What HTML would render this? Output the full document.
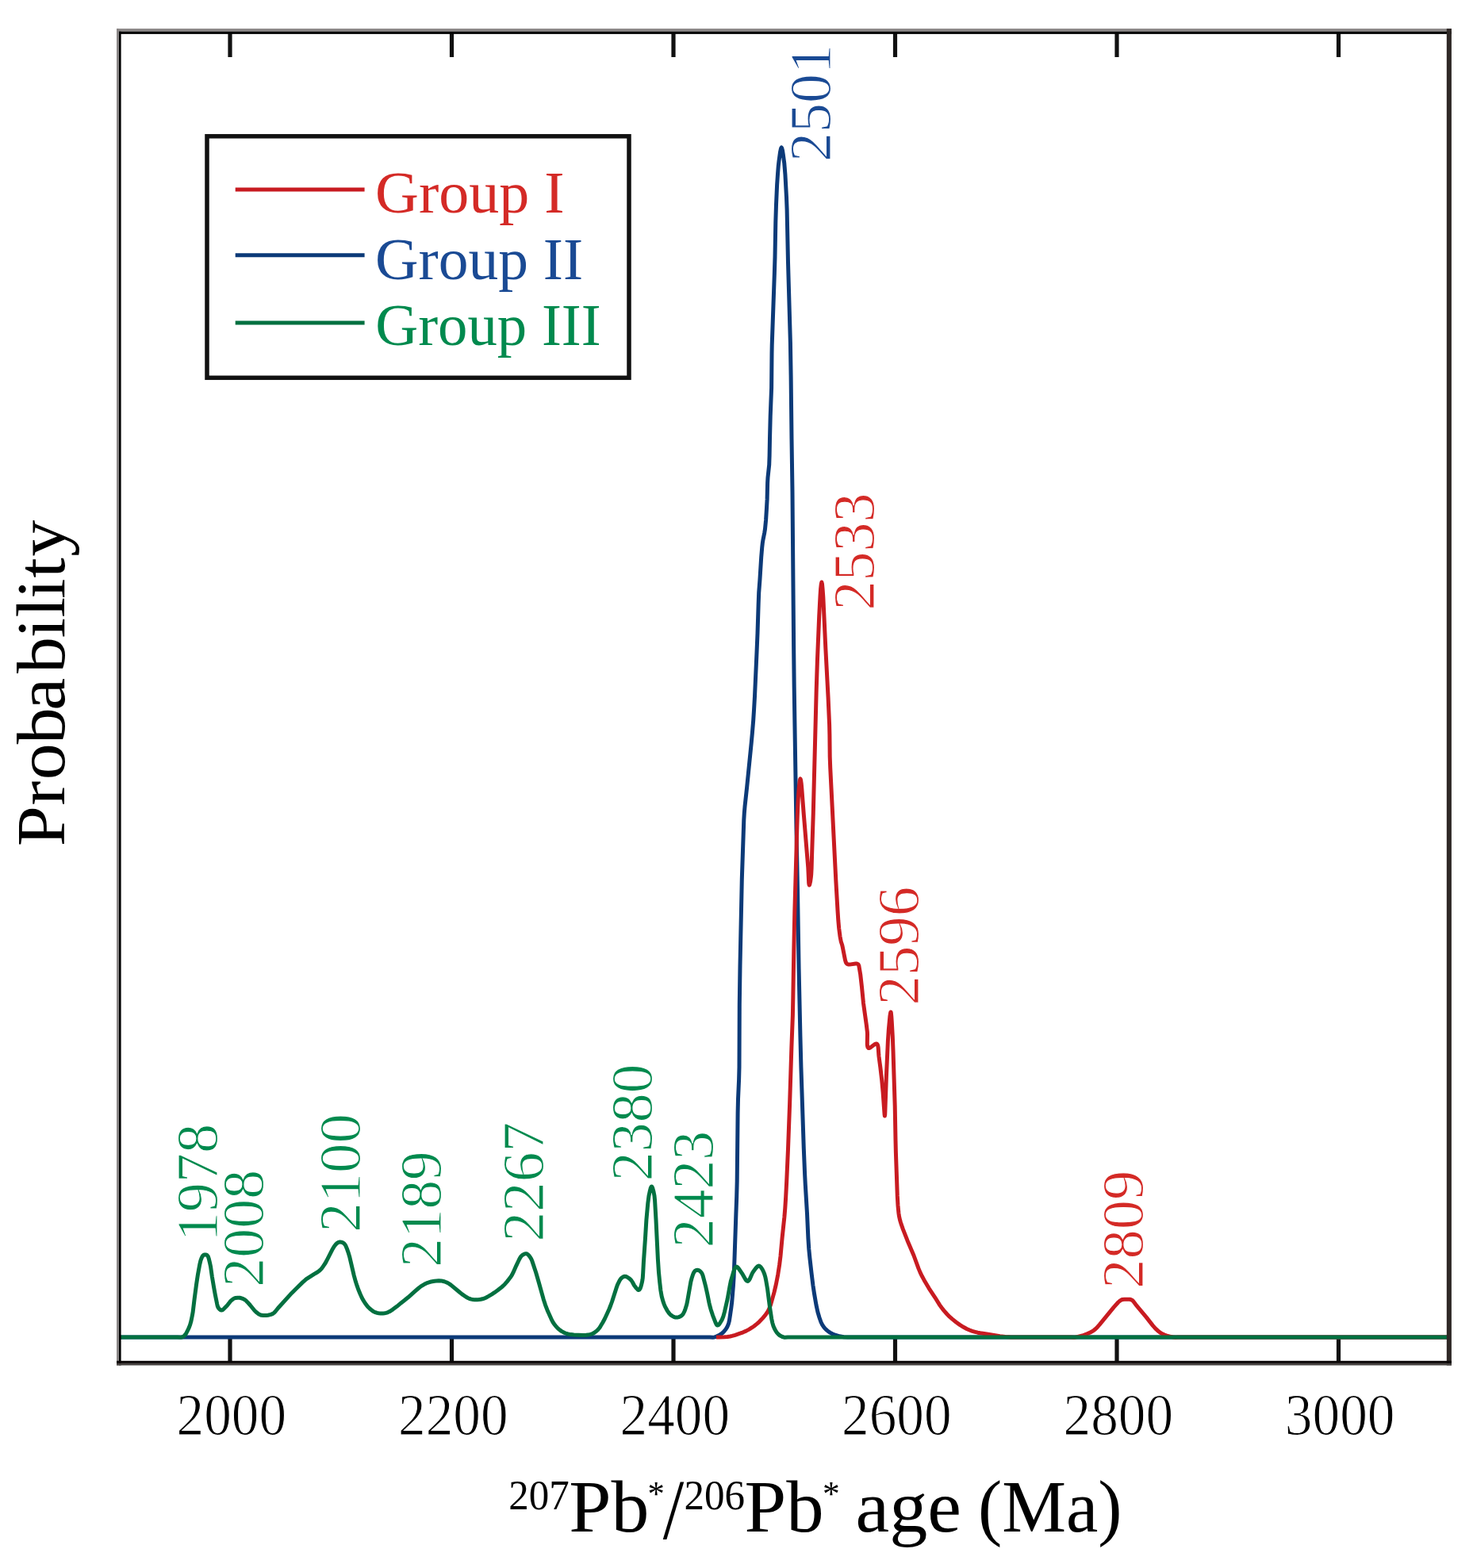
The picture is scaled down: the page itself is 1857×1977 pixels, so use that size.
<!DOCTYPE html>
<html><head><meta charset="utf-8"><title>Probability plot</title>
<style>html,body{margin:0;padding:0;background:#fff;}svg{display:block;}text{font-family:'Liberation Serif',serif;}</style>
</head><body>
<svg width="1857" height="1977" viewBox="0 0 1857 1977">
<rect x="0" y="0" width="1857" height="1977" fill="#fff"/>
<line x1="290" y1="42" x2="290" y2="72" stroke="#111" stroke-width="5.2"/>
<line x1="290" y1="1716" x2="290" y2="1686" stroke="#111" stroke-width="5.2"/>
<line x1="569.5" y1="42" x2="569.5" y2="72" stroke="#111" stroke-width="5.2"/>
<line x1="569.5" y1="1716" x2="569.5" y2="1686" stroke="#111" stroke-width="5.2"/>
<line x1="849" y1="42" x2="849" y2="72" stroke="#111" stroke-width="5.2"/>
<line x1="849" y1="1716" x2="849" y2="1686" stroke="#111" stroke-width="5.2"/>
<line x1="1128.5" y1="42" x2="1128.5" y2="72" stroke="#111" stroke-width="5.2"/>
<line x1="1128.5" y1="1716" x2="1128.5" y2="1686" stroke="#111" stroke-width="5.2"/>
<line x1="1408" y1="42" x2="1408" y2="72" stroke="#111" stroke-width="5.2"/>
<line x1="1408" y1="1716" x2="1408" y2="1686" stroke="#111" stroke-width="5.2"/>
<line x1="1687.5" y1="42" x2="1687.5" y2="72" stroke="#111" stroke-width="5.2"/>
<line x1="1687.5" y1="1716" x2="1687.5" y2="1686" stroke="#111" stroke-width="5.2"/>
<path d="M150.0,1686.1 L895.0,1686.1 L898.7,1686.3 L900.0,1686.1 L901.1,1685.8 L903.7,1684.8 L906.5,1683.5 L909.1,1682.0 L911.3,1680.2 L913.2,1678.2 L915.0,1676.0 L916.6,1673.4 L918.1,1669.9 L918.8,1667.7 L919.4,1665.3 L920.2,1660.1 L921.9,1648.3 L922.8,1640.9 L924.4,1621.4 L925.1,1610.0 L926.0,1587.2 L927.9,1530.4 L928.7,1508.9 L929.2,1489.3 L930.1,1403.5 L930.5,1386.0 L931.6,1361.0 L932.0,1345.2 L932.3,1266.2 L933.0,1218.0 L935.3,1108.6 L937.8,1033.7 L938.3,1025.3 L939.0,1017.1 L941.6,993.0 L947.3,936.1 L948.4,924.0 L949.7,908.3 L950.5,895.7 L951.5,878.2 L954.0,822.9 L955.0,798.6 L956.2,760.5 L956.7,747.3 L957.9,731.5 L959.7,702.6 L960.7,690.6 L961.3,685.0 L961.9,681.0 L963.8,671.4 L964.5,667.0 L965.6,655.5 L966.4,642.5 L967.1,629.9 L967.6,609.2 L968.0,602.0 L969.7,586.0 L970.1,574.5 L970.5,553.0 L971.2,525.0 L972.6,489.0 L973.0,445.8 L973.2,435.3 L976.4,343.6 L977.0,324.2 L977.8,280.0 L978.5,258.1 L979.6,233.2 L980.5,219.7 L981.3,209.3 L982.0,203.0 L983.5,192.1 L984.4,187.8 L984.8,186.5 L985.2,186.0 L985.6,186.5 L986.5,189.7 L987.3,194.8 L988.8,206.1 L989.9,219.7 L991.5,248.8 L992.1,264.0 L993.5,330.6 L996.4,432.0 L997.1,473.5 L998.0,553.0 L999.0,620.9 L1000.6,812.3 L1001.2,866.0 L1004.0,1045.8 L1005.5,1122.0 L1007.1,1221.9 L1008.9,1305.6 L1009.9,1344.8 L1013.3,1448.1 L1014.6,1480.0 L1015.3,1493.6 L1017.5,1530.0 L1018.9,1561.3 L1019.8,1575.0 L1020.9,1586.3 L1023.0,1604.8 L1024.9,1620.3 L1026.6,1631.5 L1028.9,1644.9 L1030.9,1654.2 L1033.0,1661.2 L1035.0,1667.0 L1036.7,1670.4 L1038.7,1673.4 L1039.8,1674.7 L1042.3,1677.1 L1043.6,1678.2 L1046.3,1680.1 L1049.4,1681.8 L1052.9,1683.2 L1058.4,1684.8 L1063.7,1685.7 L1068.9,1686.1 L1827.0,1686.1" fill="none" stroke="#0c3a78" stroke-width="5.0" stroke-linejoin="round" stroke-linecap="butt"/>
<path d="M903.0,1686.1 L907.0,1686.1 L913.3,1685.8 L917.0,1685.5 L920.4,1685.0 L923.0,1684.4 L926.8,1683.3 L933.0,1681.2 L936.8,1679.8 L940.6,1678.1 L944.4,1676.1 L948.2,1673.7 L950.7,1672.0 L954.6,1668.9 L957.2,1666.6 L959.6,1664.1 L961.9,1661.6 L965.2,1657.7 L968.1,1653.3 L969.7,1650.1 L971.7,1644.6 L976.0,1629.4 L978.4,1619.1 L980.7,1607.2 L982.7,1594.4 L984.0,1583.7 L986.1,1560.7 L988.9,1534.2 L989.8,1523.2 L990.7,1508.9 L991.7,1489.5 L993.5,1448.8 L995.6,1392.0 L997.9,1320.0 L999.4,1280.0 L999.8,1259.5 L1000.8,1199.0 L1001.8,1150.6 L1004.9,1040.5 L1005.7,1017.6 L1006.2,1007.9 L1007.2,993.7 L1008.1,985.5 L1008.7,982.4 L1009.0,982.0 L1009.6,983.6 L1010.2,987.8 L1010.8,994.2 L1013.4,1028.1 L1018.0,1084.1 L1018.8,1094.1 L1019.7,1113.4 L1020.0,1115.3 L1020.3,1116.0 L1020.5,1115.7 L1020.8,1115.0 L1021.7,1110.9 L1022.4,1105.7 L1022.7,1102.5 L1023.1,1095.1 L1023.6,1077.5 L1025.3,1024.8 L1029.2,870.2 L1030.4,833.4 L1032.7,776.9 L1034.0,752.0 L1034.6,742.6 L1035.3,736.3 L1035.9,734.0 L1036.5,736.4 L1037.1,742.9 L1037.8,752.7 L1040.8,817.0 L1044.1,879.9 L1045.6,914.0 L1045.9,926.5 L1046.2,954.0 L1046.7,967.6 L1053.8,1109.8 L1056.0,1148.0 L1056.8,1160.3 L1057.7,1170.5 L1059.1,1181.1 L1060.2,1186.9 L1061.6,1191.2 L1062.1,1193.3 L1065.5,1210.6 L1066.4,1213.5 L1067.1,1214.6 L1068.0,1215.5 L1069.3,1216.0 L1071.0,1216.1 L1078.7,1215.0 L1080.3,1215.1 L1081.5,1215.5 L1082.1,1216.1 L1082.8,1217.5 L1084.7,1228.6 L1086.4,1243.6 L1088.5,1265.0 L1092.3,1292.1 L1093.4,1301.4 L1093.5,1304.1 L1093.3,1316.2 L1093.5,1318.6 L1094.0,1320.5 L1094.8,1321.5 L1095.8,1321.6 L1097.0,1321.0 L1103.0,1316.6 L1104.3,1316.0 L1105.3,1316.0 L1106.1,1316.8 L1106.7,1318.3 L1107.1,1320.2 L1107.3,1322.4 L1107.8,1329.8 L1108.0,1332.0 L1109.8,1345.3 L1111.7,1361.8 L1113.1,1377.1 L1115.1,1405.1 L1115.4,1407.0 L1115.7,1405.3 L1115.9,1400.7 L1117.4,1357.7 L1119.4,1312.4 L1120.4,1297.5 L1121.9,1281.4 L1122.7,1276.7 L1123.0,1276.0 L1123.3,1276.7 L1123.8,1281.4 L1124.3,1289.0 L1125.3,1306.7 L1126.0,1324.7 L1128.2,1393.9 L1129.0,1437.2 L1129.4,1453.2 L1131.3,1507.9 L1132.0,1520.0 L1132.9,1529.3 L1133.5,1533.5 L1134.5,1538.0 L1135.3,1540.8 L1136.2,1543.7 L1138.3,1549.7 L1144.0,1564.2 L1152.0,1583.0 L1158.0,1599.4 L1160.2,1604.6 L1162.5,1609.3 L1165.0,1613.9 L1171.1,1624.3 L1178.7,1635.8 L1184.8,1645.6 L1187.1,1648.8 L1189.7,1652.1 L1194.0,1657.0 L1197.1,1660.2 L1200.8,1663.4 L1205.3,1667.0 L1210.0,1670.4 L1214.7,1673.3 L1218.7,1675.5 L1222.2,1677.0 L1225.8,1678.3 L1229.3,1679.3 L1232.6,1680.2 L1235.8,1680.8 L1244.0,1682.0 L1260.6,1684.7 L1267.5,1685.4 L1274.4,1685.9 L1281.5,1686.1 L1350.0,1686.1 L1353.6,1686.2 L1356.2,1685.9 L1358.8,1685.5 L1364.6,1684.0 L1371.0,1681.6 L1374.5,1680.0 L1377.8,1678.1 L1379.4,1677.0 L1381.2,1675.5 L1382.9,1673.9 L1386.2,1670.1 L1404.2,1648.1 L1409.7,1642.0 L1411.6,1640.3 L1413.6,1639.0 L1415.2,1638.5 L1417.6,1638.2 L1422.6,1638.2 L1424.4,1638.3 L1426.0,1638.7 L1427.5,1639.5 L1428.2,1640.1 L1432.0,1645.1 L1445.2,1660.9 L1453.4,1671.4 L1456.7,1675.1 L1459.5,1677.7 L1463.0,1680.4 L1465.4,1681.8 L1468.0,1683.0 L1471.0,1684.1 L1474.2,1685.0 L1480.0,1686.1 L1482.0,1686.2 L1485.0,1686.1 L1827.0,1686.1" fill="none" stroke="#c81b21" stroke-width="5.0" stroke-linejoin="round" stroke-linecap="butt"/>
<path d="M150.0,1686.1 L223.7,1686.1 L227.8,1686.3 L229.0,1686.1 L230.1,1685.7 L231.6,1684.8 L232.5,1684.0 L233.8,1682.5 L234.6,1681.3 L237.0,1676.7 L238.5,1673.4 L239.7,1670.2 L241.0,1665.5 L242.4,1658.6 L243.2,1654.0 L245.0,1638.9 L247.6,1619.2 L249.5,1606.7 L251.7,1594.6 L253.0,1589.1 L254.2,1586.0 L254.9,1584.5 L255.7,1583.3 L256.5,1582.5 L257.1,1582.2 L258.0,1582.0 L259.3,1582.0 L260.3,1582.2 L261.2,1582.7 L262.0,1583.7 L262.5,1584.7 L263.3,1587.1 L264.7,1592.9 L265.5,1596.7 L267.3,1609.3 L269.7,1623.7 L271.3,1632.5 L273.7,1644.3 L274.3,1646.8 L274.7,1647.9 L275.6,1649.4 L276.5,1650.5 L277.6,1651.4 L278.6,1651.9 L279.2,1652.0 L279.9,1651.9 L280.7,1651.5 L282.4,1650.1 L286.4,1646.0 L290.3,1640.9 L292.1,1639.2 L293.8,1637.9 L295.6,1636.9 L297.1,1636.5 L299.7,1636.2 L302.2,1636.3 L303.9,1636.7 L306.4,1637.6 L308.0,1638.4 L309.7,1639.5 L312.1,1641.9 L315.3,1645.5 L321.0,1652.5 L323.5,1654.8 L326.0,1656.7 L327.7,1657.6 L329.6,1658.3 L331.8,1658.6 L335.8,1658.5 L337.9,1658.2 L341.6,1657.4 L343.9,1656.4 L345.5,1655.3 L347.2,1653.5 L351.5,1648.2 L367.7,1630.4 L374.2,1623.9 L381.7,1616.6 L384.9,1613.8 L387.1,1612.1 L395.7,1606.6 L400.2,1604.0 L402.2,1602.5 L404.1,1600.9 L405.7,1599.1 L407.1,1597.1 L410.2,1592.5 L412.8,1587.6 L419.4,1574.7 L421.3,1571.5 L423.4,1568.9 L425.0,1567.4 L425.9,1566.8 L426.8,1566.4 L427.7,1566.1 L429.1,1566.0 L430.4,1566.2 L431.7,1566.6 L432.9,1567.2 L433.9,1568.0 L434.8,1569.1 L435.7,1570.4 L437.3,1574.2 L439.4,1580.2 L440.6,1584.2 L446.3,1608.3 L448.5,1616.3 L450.1,1621.2 L451.8,1626.0 L454.2,1631.8 L456.1,1636.0 L457.5,1638.7 L459.9,1642.5 L461.6,1644.9 L463.4,1647.2 L466.2,1650.0 L469.1,1652.4 L471.1,1653.8 L473.2,1654.7 L475.4,1655.4 L477.5,1655.8 L479.7,1656.0 L482.8,1656.0 L484.7,1655.8 L486.7,1655.4 L488.6,1654.8 L490.8,1653.8 L495.1,1651.1 L500.5,1647.1 L505.8,1642.7 L514.5,1635.8 L523.1,1628.1 L527.3,1624.5 L530.6,1621.9 L534.9,1619.3 L539.2,1617.3 L541.4,1616.6 L543.5,1616.0 L547.8,1615.2 L553.2,1614.8 L556.4,1614.9 L559.7,1615.7 L561.9,1616.5 L564.1,1617.4 L566.2,1618.6 L568.4,1620.1 L579.1,1629.0 L582.3,1631.6 L587.6,1635.3 L589.8,1636.5 L592.0,1637.5 L594.1,1638.1 L596.3,1638.5 L598.4,1638.7 L601.7,1638.8 L603.8,1638.6 L606.0,1638.3 L608.1,1637.8 L610.3,1637.1 L612.5,1636.2 L615.8,1634.4 L620.1,1631.9 L623.4,1629.7 L627.5,1626.8 L631.3,1623.8 L634.0,1621.5 L636.4,1619.2 L639.3,1615.9 L642.1,1612.3 L644.2,1609.5 L645.5,1607.4 L647.0,1604.4 L650.7,1596.1 L654.4,1588.3 L655.9,1585.5 L656.7,1584.3 L658.3,1582.7 L660.6,1581.3 L662.1,1580.7 L663.6,1580.7 L664.3,1580.9 L665.0,1581.3 L665.7,1581.9 L667.0,1583.3 L668.8,1585.8 L669.6,1587.1 L670.9,1590.1 L675.6,1604.2 L678.8,1615.3 L685.2,1638.2 L687.5,1645.3 L690.6,1653.3 L694.9,1662.8 L697.2,1667.3 L698.9,1669.7 L700.5,1671.8 L702.2,1673.7 L704.0,1675.5 L706.0,1677.1 L708.2,1678.6 L711.8,1680.5 L714.4,1681.5 L716.0,1682.0 L719.6,1682.6 L723.4,1683.0 L735.1,1683.4 L739.2,1683.3 L741.1,1683.1 L744.6,1682.4 L747.1,1681.5 L749.3,1680.3 L751.3,1678.8 L753.2,1677.2 L754.1,1676.3 L755.7,1674.3 L757.1,1672.1 L760.0,1667.2 L762.4,1662.7 L765.3,1656.5 L768.0,1650.5 L769.8,1646.0 L771.6,1641.0 L776.9,1624.4 L778.5,1619.9 L781.1,1614.6 L782.2,1612.9 L783.4,1611.5 L784.5,1610.6 L785.7,1609.9 L786.9,1609.4 L787.6,1609.3 L789.0,1609.4 L790.8,1610.2 L793.6,1612.1 L795.2,1613.6 L796.0,1614.5 L797.3,1616.5 L799.6,1620.8 L802.2,1624.1 L803.6,1625.6 L804.2,1626.2 L804.8,1626.5 L805.4,1626.5 L806.0,1626.1 L806.6,1625.4 L807.2,1624.3 L808.2,1621.5 L809.4,1616.6 L809.9,1614.0 L810.3,1611.2 L810.7,1604.9 L811.4,1591.3 L813.5,1561.0 L814.9,1538.0 L816.8,1517.0 L818.0,1507.8 L819.2,1502.2 L820.3,1497.9 L821.1,1496.2 L821.5,1496.0 L821.9,1496.2 L822.7,1497.9 L823.9,1502.2 L825.0,1507.8 L825.6,1513.8 L827.0,1538.0 L829.4,1587.6 L830.5,1604.3 L831.7,1616.6 L832.9,1627.1 L834.2,1634.5 L835.8,1640.4 L837.0,1643.8 L838.3,1647.1 L841.1,1652.3 L843.3,1655.5 L844.9,1657.3 L845.8,1658.1 L848.3,1659.8 L850.2,1660.6 L851.1,1660.9 L852.9,1661.1 L853.8,1661.0 L855.7,1660.6 L857.5,1659.9 L859.2,1658.8 L860.0,1658.1 L860.9,1657.1 L861.6,1656.0 L863.0,1653.2 L864.1,1650.1 L865.6,1645.3 L866.4,1641.6 L870.9,1616.0 L872.1,1611.5 L873.4,1607.4 L874.4,1605.0 L875.0,1603.9 L875.6,1603.1 L876.2,1602.4 L877.1,1601.8 L878.2,1601.4 L879.7,1601.3 L880.7,1601.6 L882.3,1602.4 L883.8,1603.9 L885.0,1605.6 L886.1,1608.4 L889.5,1621.4 L891.8,1631.8 L894.0,1642.7 L895.0,1647.0 L896.1,1650.9 L898.6,1658.6 L902.1,1667.7 L903.2,1670.0 L903.9,1670.7 L904.5,1671.0 L905.2,1670.9 L905.9,1670.4 L906.6,1669.7 L908.1,1667.6 L910.2,1663.9 L911.1,1661.8 L912.0,1659.4 L913.5,1653.9 L917.1,1638.1 L920.0,1622.0 L921.5,1614.6 L924.5,1604.4 L925.9,1600.2 L926.7,1598.7 L927.5,1597.6 L928.4,1597.1 L929.1,1597.2 L929.8,1597.7 L931.3,1599.5 L935.5,1605.6 L939.6,1612.8 L940.6,1614.2 L941.6,1615.1 L942.6,1615.4 L943.5,1615.0 L944.4,1613.9 L945.3,1612.4 L947.9,1606.5 L948.8,1604.7 L949.7,1603.2 L952.3,1599.7 L954.2,1597.5 L955.1,1596.7 L956.0,1596.2 L956.8,1596.1 L957.6,1596.4 L958.5,1597.0 L959.3,1597.8 L960.9,1600.2 L962.3,1602.9 L963.6,1606.0 L964.8,1609.9 L965.7,1614.3 L967.5,1624.8 L970.5,1648.2 L972.7,1662.7 L973.7,1667.6 L975.0,1672.0 L976.3,1675.0 L977.7,1677.7 L979.3,1680.1 L981.1,1682.1 L982.7,1683.5 L984.5,1684.6 L986.3,1685.5 L988.6,1686.2 L989.9,1686.3 L993.0,1686.1 L1827.0,1686.1" fill="none" stroke="#037040" stroke-width="5.0" stroke-linejoin="round" stroke-linecap="butt"/>
<rect x="147" y="36.1" width="1682.9" height="3.6" fill="#8a8686"/>
<rect x="147" y="36.1" width="3" height="1685.4" fill="#8a8686"/>
<rect x="150" y="39.7" width="1679.9" height="3.2" fill="#000"/>
<rect x="150" y="39.7" width="2.6" height="1681.8" fill="#000"/>
<rect x="1823.8" y="36.1" width="6.1" height="1685.4" fill="#2e2826"/>
<rect x="147" y="1715.8" width="1682.9" height="3.1" fill="#0a0606"/>
<rect x="147" y="1718.9" width="1682.9" height="2.6" fill="#474240"/>
<text x="222.56" y="1809.20" font-size="74" fill="#000" textLength="138.48" lengthAdjust="spacingAndGlyphs" stroke="#fff" stroke-width="1.1">2000</text>
<text x="502.06" y="1809.20" font-size="74" fill="#000" textLength="138.48" lengthAdjust="spacingAndGlyphs" stroke="#fff" stroke-width="1.1">2200</text>
<text x="781.56" y="1809.20" font-size="74" fill="#000" textLength="138.48" lengthAdjust="spacingAndGlyphs" stroke="#fff" stroke-width="1.1">2400</text>
<text x="1061.06" y="1809.20" font-size="74" fill="#000" textLength="138.48" lengthAdjust="spacingAndGlyphs" stroke="#fff" stroke-width="1.1">2600</text>
<text x="1340.56" y="1809.20" font-size="74" fill="#000" textLength="138.48" lengthAdjust="spacingAndGlyphs" stroke="#fff" stroke-width="1.1">2800</text>
<text x="1619.78" y="1809.20" font-size="74" fill="#000" textLength="138.76" lengthAdjust="spacingAndGlyphs" stroke="#fff" stroke-width="1.1">3000</text>
<rect x="261" y="171.8" width="532" height="304.5" fill="none" stroke="#111" stroke-width="5.5"/>
<line x1="296.7" y1="239" x2="459.6" y2="239" stroke="#c81b21" stroke-width="5"/>
<line x1="296.7" y1="321.7" x2="459.6" y2="321.7" stroke="#0c3a78" stroke-width="5"/>
<line x1="296.7" y1="406.9" x2="459.6" y2="406.9" stroke="#037040" stroke-width="5"/>
<text x="473.08" y="267.70" font-size="75" fill="#d42a26" textLength="238.59" lengthAdjust="spacingAndGlyphs">Group I</text>
<text x="473.10" y="351.50" font-size="75" fill="#1a4a94" textLength="262.05" lengthAdjust="spacingAndGlyphs">Group II</text>
<text x="473.13" y="435.00" font-size="75" fill="#008a4e" textLength="284.50" lengthAdjust="spacingAndGlyphs">Group III</text>
<text transform="translate(274.40,1565.54) rotate(-90)" x="0" y="0" font-size="75" fill="#008a4e" textLength="148.77" lengthAdjust="spacingAndGlyphs" stroke="#fff" stroke-width="1.1">1978</text>
<text transform="translate(331.80,1622.75) rotate(-90)" x="0" y="0" font-size="75" fill="#008a4e" textLength="147.86" lengthAdjust="spacingAndGlyphs" stroke="#fff" stroke-width="1.1">2008</text>
<text transform="translate(454.30,1553.79) rotate(-90)" x="0" y="0" font-size="75" fill="#008a4e" textLength="149.64" lengthAdjust="spacingAndGlyphs" stroke="#fff" stroke-width="1.1">2100</text>
<text transform="translate(555.60,1597.72) rotate(-90)" x="0" y="0" font-size="75" fill="#008a4e" textLength="146.42" lengthAdjust="spacingAndGlyphs" stroke="#fff" stroke-width="1.1">2189</text>
<text transform="translate(685.10,1565.61) rotate(-90)" x="0" y="0" font-size="75" fill="#008a4e" textLength="150.79" lengthAdjust="spacingAndGlyphs" stroke="#fff" stroke-width="1.1">2267</text>
<text transform="translate(822.40,1489.25) rotate(-90)" x="0" y="0" font-size="75" fill="#008a4e" textLength="147.76" lengthAdjust="spacingAndGlyphs" stroke="#fff" stroke-width="1.1">2380</text>
<text transform="translate(898.80,1573.13) rotate(-90)" x="0" y="0" font-size="75" fill="#008a4e" textLength="147.21" lengthAdjust="spacingAndGlyphs" stroke="#fff" stroke-width="1.1">2423</text>
<text transform="translate(1047.00,203.95) rotate(-90)" x="0" y="0" font-size="75" fill="#1a4a94" textLength="147.89" lengthAdjust="spacingAndGlyphs" stroke="#fff" stroke-width="1.1">2501</text>
<text transform="translate(1102.00,769.56) rotate(-90)" x="0" y="0" font-size="75" fill="#d42a26" textLength="148.15" lengthAdjust="spacingAndGlyphs" stroke="#fff" stroke-width="1.1">2533</text>
<text transform="translate(1157.50,1267.49) rotate(-90)" x="0" y="0" font-size="75" fill="#d42a26" textLength="149.72" lengthAdjust="spacingAndGlyphs" stroke="#fff" stroke-width="1.1">2596</text>
<text transform="translate(1441.20,1624.67) rotate(-90)" x="0" y="0" font-size="75" fill="#d42a26" textLength="148.93" lengthAdjust="spacingAndGlyphs" stroke="#fff" stroke-width="1.1">2809</text>
<text transform="translate(81.30,1070.00) rotate(-90) scale(1.06,1)" x="2.62 51.35 81.93 124.25 164.29 208.49 250.57 274.90 297.17 321.90 347.42" y="0" font-size="87" fill="#000">Probability</text>
<text x="641.16" y="1902.80" font-size="52" fill="#000" textLength="76.51" lengthAdjust="spacingAndGlyphs">207</text>
<text x="717.24" y="1931.20" font-size="93" fill="#000" textLength="101.21" lengthAdjust="spacingAndGlyphs">Pb</text>
<text x="816.42" y="1897.80" font-size="44" fill="#000" textLength="21.32" lengthAdjust="spacingAndGlyphs">*</text>
<text x="835.70" y="1939.80" font-size="108.5" fill="#000" textLength="26.50" lengthAdjust="spacingAndGlyphs">/</text>
<text x="862.56" y="1902.80" font-size="52" fill="#000" textLength="76.56" lengthAdjust="spacingAndGlyphs">206</text>
<text x="938.57" y="1931.20" font-size="93" fill="#000" textLength="100.04" lengthAdjust="spacingAndGlyphs">Pb</text>
<text x="1036.88" y="1897.80" font-size="44" fill="#000" textLength="21.69" lengthAdjust="spacingAndGlyphs">*</text>
<text x="1078.62" y="1931.20" font-size="93" fill="#000" textLength="133.41" lengthAdjust="spacingAndGlyphs">age</text>
<text x="1233.01" y="1931.20" font-size="93" fill="#000" textLength="181.58" lengthAdjust="spacingAndGlyphs">(Ma)</text>
</svg>
</body></html>
